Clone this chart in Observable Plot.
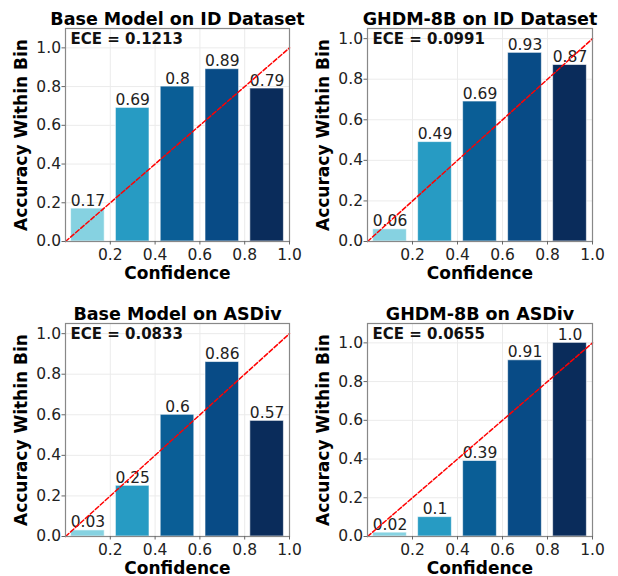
<!DOCTYPE html>
<html>
<head>
<meta charset="utf-8">
<script src="https://cdn.jsdelivr.net/npm/d3@7"></script>
<script src="https://cdn.jsdelivr.net/npm/@observablehq/plot@0.6"></script>
<style>
  html, body { margin: 0; padding: 0; background: #fff; }
  #wrap { position: relative; width: 618px; height: 576px; overflow: hidden; background: #fff; }
  .panel { position: absolute; }
  svg { font-family: "DejaVu Sans", sans-serif; }
</style>
</head>
<body>
<div id="wrap"></div>
<script>
// ---- data ----
const binCenters = [0.1, 0.3, 0.5, 0.7, 0.9];
const accBaseID = [0.17, 0.69, 0.8, 0.89, 0.79];
const accGhdmID = [0.06, 0.49, 0.69, 0.93, 0.87];
const accBaseASDiv = [0.03, 0.25, 0.6, 0.86, 0.57];
const accGhdmASDiv = [0.02, 0.1, 0.39, 0.91, 1.0];
const panelTitles = ["Base Model on ID Dataset", "GHDM-8B on ID Dataset", "Base Model on ASDiv", "GHDM-8B on ASDiv"];
const eceValues = ["0.1213", "0.0991", "0.0833", "0.0655"];
const yTopValues = [1.1, 1.05, 1.05, 1.1];
const xTicks = [0.2, 0.4, 0.6, 0.8, 1.0];
const yTicks = [0.0, 0.2, 0.4, 0.6, 0.8, 1.0];
const diagonal = [0, 1];
const xLabel = "Confidence";
const yLabel = "Accuracy Within Bin";
const binColors = ["#86d2e1", "#279bc3", "#0a5e96", "#084b86", "#0a2c5b"];

const series = [accBaseID, accGhdmID, accBaseASDiv, accGhdmASDiv];
const layout = [
  {left: 0, top: 0, width: 301, ml: 65, mr: 12},
  {left: 301, top: 0, width: 317, ml: 66, mr: 26},
  {left: 0, top: 295, width: 301, ml: 65, mr: 12},
  {left: 301, top: 295, width: 317, ml: 66, mr: 26}
];
const pyStr = v => Number.isInteger(v) ? v.toFixed(1) : String(v);
const halfW = 0.075;

const wrap = document.getElementById("wrap");
series.forEach((acc, i) => {
  const L = layout[i];
  const rows = binCenters.map((c, j) => ({c, acc: acc[j], color: binColors[j], label: pyStr(acc[j])}));
  const chart = Plot.plot({
    width: L.width,
    height: 282,
    marginTop: 28,
    marginBottom: 41,
    marginLeft: L.ml,
    marginRight: L.mr,
    style: {fontFamily: "DejaVu Sans, sans-serif", background: "transparent", overflow: "visible"},
    x: {domain: [0, 1], ticks: xTicks, tickFormat: d3.format(".1f"), label: null},
    y: {domain: [0, yTopValues[i]], ticks: yTicks, tickFormat: d3.format(".1f"), label: null},
    marks: [
      Plot.gridX(xTicks, {stroke: "#ebebeb", strokeOpacity: 1}),
      Plot.gridY(yTicks, {stroke: "#ebebeb", strokeOpacity: 1}),
      Plot.rectY(rows, {x1: d => d.c - halfW, x2: d => d.c + halfW, y1: 0, y2: "acc", fill: "color", stroke: "#ffffff", strokeOpacity: 0.6, strokeWidth: 1}),
      Plot.text(rows, {x: "c", y: "acc", text: "label", dy: -3, lineAnchor: "bottom", fontSize: 15.5, fill: "#222"}),
      Plot.line(diagonal, {x: d => d, y: d => d, stroke: "#ff0000", strokeWidth: 1.5, strokeDasharray: "4.5,2.2"}),
      Plot.frame({stroke: "#888", strokeWidth: 1.2}),
      Plot.axisX(xTicks, {tickSize: 3.5, stroke: "#666", tickPadding: 3.5, fontSize: 15.5, fill: "#222", tickFormat: d3.format(".1f"), label: null}),
      Plot.axisY(yTicks, {tickSize: 3.5, stroke: "#666", tickPadding: 1, fontSize: 15.5, fill: "#222", tickFormat: d3.format(".1f"), label: null}),
      Plot.text(["ECE = " + eceValues[i]], {frameAnchor: "top-left", dx: 5, dy: 5, lineAnchor: "top", fontSize: 15, fontWeight: "bold", fill: "#111"}),
      Plot.text([panelTitles[i]], {frameAnchor: "top", dy: -4, lineAnchor: "bottom", fontSize: 17.5, fontWeight: "bold", fill: "#000"}),
      Plot.text([xLabel], {frameAnchor: "bottom", dy: 37, lineAnchor: "bottom", fontSize: 17, fontWeight: "bold", fill: "#000"}),
      Plot.text([yLabel], {frameAnchor: "left", dx: -44, rotate: -90, textAnchor: "middle", lineAnchor: "middle", fontSize: 17, fontWeight: "bold", fill: "#000"})
    ]
  });
  const div = document.createElement("div");
  div.className = "panel";
  div.style.left = L.left + "px";
  div.style.top = L.top + "px";
  div.appendChild(chart);
  wrap.appendChild(div);
});
</script>
</body>
</html>
